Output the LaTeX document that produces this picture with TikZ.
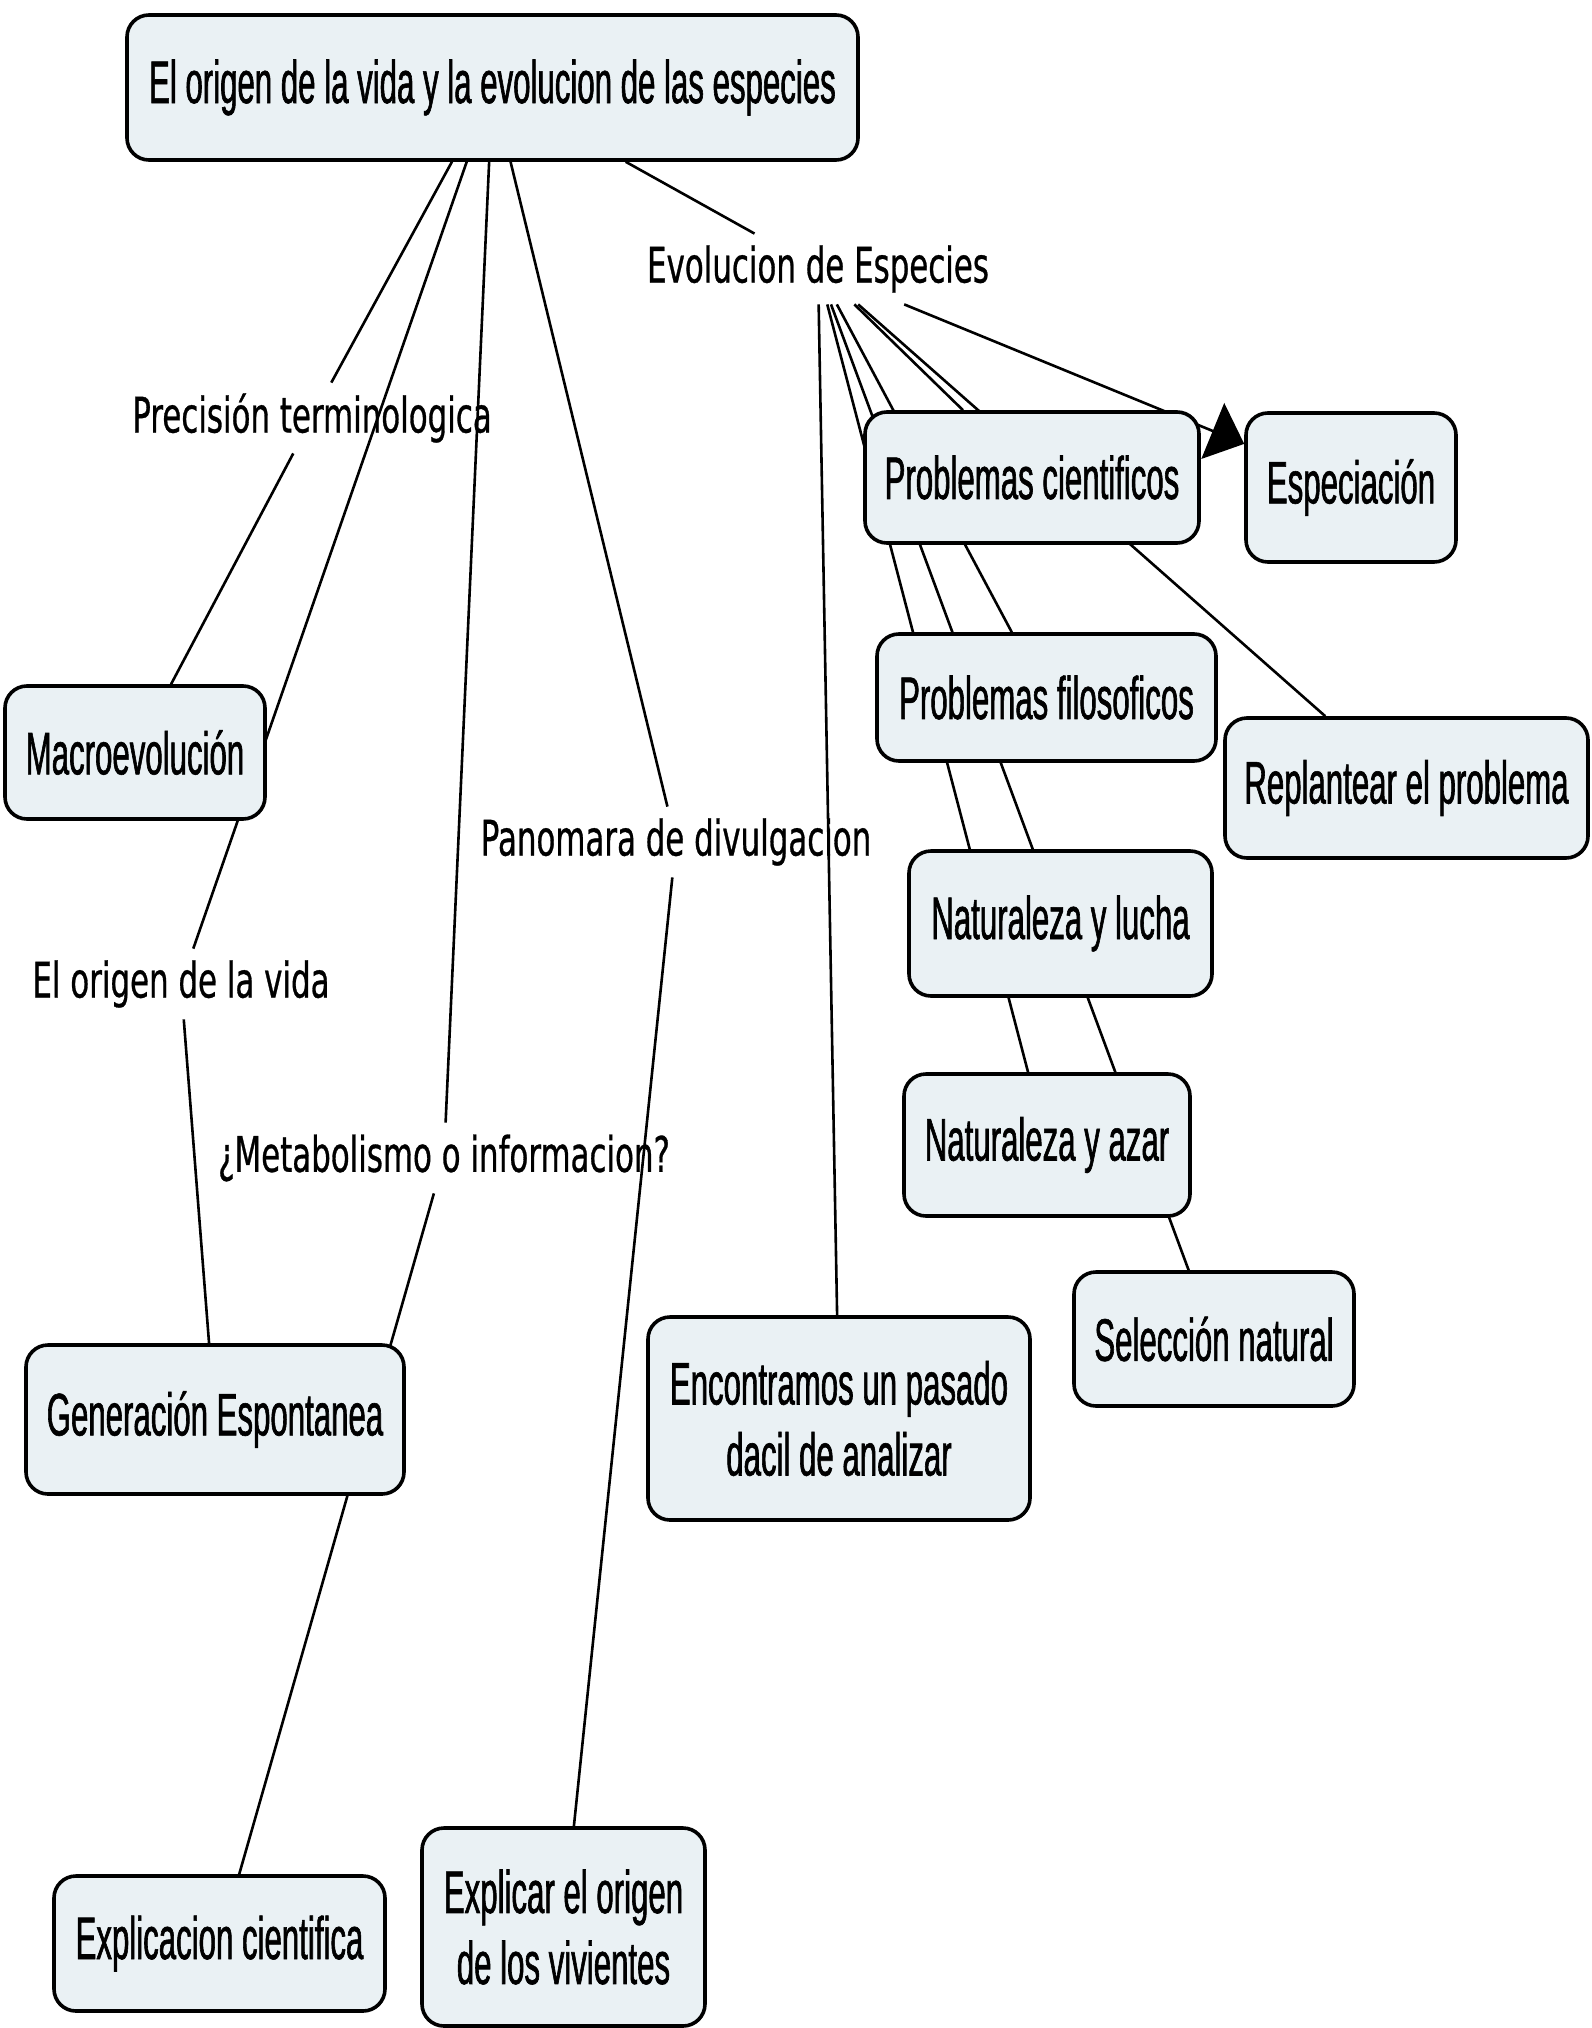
\documentclass[tikz,border=0pt]{standalone}
\usepackage{fontspec}
\setmainfont{Liberation Sans}
\newfontfamily\conceptfont[FakeStretch=0.52,FakeBold=1]{Liberation Sans}
\newfontfamily\linkfont[FakeStretch=0.63,FakeBold=0.6]{DejaVu Sans}
\usetikzlibrary{arrows.meta}
\pgfdeclarelayer{background}
\pgfsetlayers{background,main}
\definecolor{boxfill}{RGB}{234,241,244}
\begin{document}
\begin{tikzpicture}[x=0.5pt,y=-0.5pt,
  concept/.style={draw=black, line width=1.8pt, fill=boxfill, rounded corners=11pt,
    inner sep=0pt, align=center, font=\conceptfont\fontsize{30pt}{35.5pt}\selectfont},
  linkph/.style={inner xsep=2pt, inner ysep=0pt, minimum height=35pt,
    font=\linkfont\fontsize{24.5pt}{30pt}\selectfont},
  conn/.style={line width=1.3pt, draw=black}]
\useasboundingbox (0,0) rectangle (1591,2028);

% concepts
\node[concept, minimum width=365.5pt, minimum height=72.5pt] (root) at (492.5,87.5) {El origen de la vida y la evolucion de las especies};
\node[concept, minimum width=167pt, minimum height=65.5pt] (pc) at (1032,477.5) {Problemas cientificos};
\node[concept, minimum width=105pt, minimum height=74.5pt] (esp) at (1351,487.5) {Especiación};
\node[concept, minimum width=169.5pt, minimum height=63.5pt] (pf) at (1046.5,697.5) {Problemas filosoficos};
\node[concept, minimum width=181.5pt, minimum height=70pt] (rep) at (1406.5,788) {Replantear el problema};
\node[concept, minimum width=151.5pt, minimum height=72.5pt] (nyl) at (1060.5,923.5) {Naturaleza y lucha};
\node[concept, minimum width=143pt, minimum height=71pt] (nya) at (1047,1145) {Naturaleza y azar};
\node[concept, minimum width=140pt, minimum height=67pt] (sn) at (1214,1339) {Selección natural};
\node[concept, minimum width=191pt, minimum height=101.5pt] (enc) at (839,1418.5) {Encontramos un pasado\\dacil de analizar};
\node[concept, minimum width=130pt, minimum height=66.5pt] (macro) at (135,752.5) {Macroevolución};
\node[concept, minimum width=189pt, minimum height=74.5pt] (gen) at (215,1419.5) {Generación Espontanea};
\node[concept, minimum width=165.5pt, minimum height=67.5pt] (expc) at (219.5,1943.5) {Explicacion cientifica};
\node[concept, minimum width=141.5pt, minimum height=99pt] (expo) at (563.5,1927) {Explicar el origen\\de los vivientes};

% linking phrases
\node[linkph] (evo) at (818,269) {Evolucion de Especies};
\node[linkph] (prec) at (312,418) {Precisión terminologica};
\node[linkph] (orig) at (181,984) {El origen de la vida};
\node[linkph] (meta) at (444,1158) {¿Metabolismo o informacion?};
\node[linkph] (pano) at (676,842) {Panomara de divulgacion};

\begin{pgfonlayer}{background}
\draw[conn] (root) -- (prec);
\draw[conn] (root) -- (orig);
\draw[conn] (root) -- (meta);
\draw[conn] (root) -- (pano);
\draw[conn] (root) -- (evo);
\draw[conn] (prec) -- (macro);
\draw[conn] (orig) -- (gen);
\draw[conn] (meta) -- (expc);
\draw[conn] (pano) -- (expo);
\draw[conn] (evo) -- (enc);
\draw[conn] (evo) -- (pc);
\draw[conn] (evo) -- (pf);
\draw[conn] (evo) -- (nya);
\draw[conn] (evo) -- (sn);
\draw[conn] (evo) -- (rep);
\draw[conn, -{Triangle[length=17pt,width=30pt]}] (evo) -- (esp);
\end{pgfonlayer}
\end{tikzpicture}
\end{document}
